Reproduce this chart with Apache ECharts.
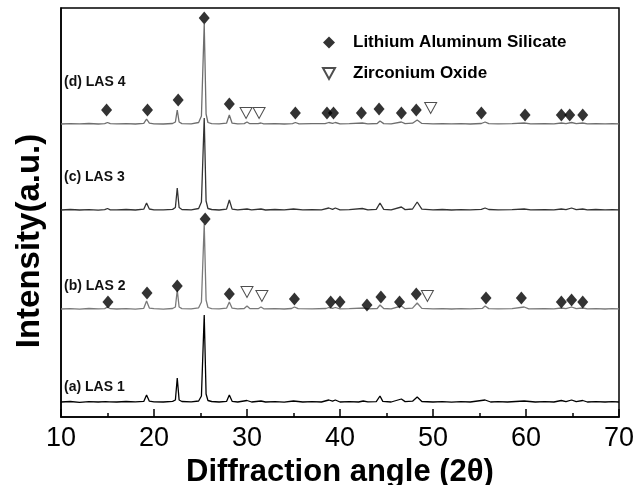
<!DOCTYPE html>
<html>
<head>
<meta charset="utf-8">
<script src="https://cdn.jsdelivr.net/npm/echarts@6/dist/echarts.min.js"></script>
<style>
html,body{margin:0;padding:0;background:#fff;}
#chart{width:643px;height:485px;}
</style>
</head>
<body>
<div id="chart"></div>
<script>
// ---- Data (2θ, intensity above each trace's own baseline, a.u.) ----
var traceNames = ['(a) LAS 1', '(b) LAS 2', '(c) LAS 3', '(d) LAS 4'];
var traceOffsets = [15, 108, 207, 293];

var traceA = [[10,0],[11,0.5],[12,-0.3],[13,0.4],[14,0],[14.8,0.3],[15,2],[15.2,0.2],[16,0],[17,0.5],[18,0.1],[18.9,0.6],[19.2,7],[19.5,0.8],[20,0.2],[21,0],[22,0.6],[22.3,2],[22.5,24],[22.7,2],[23,0.5],[24,0.2],[24.8,1],[25.1,6],[25.4,87],[25.6,8],[25.8,1.5],[26.2,0.5],[27,0],[27.8,0.6],[28.1,7],[28.4,0.7],[29,0],[30,1.5],[30.5,0],[31.5,1],[32,0],[33,0.4],[34,-0.2],[35,1],[36,0],[37,0.4],[38,0],[38.8,2],[39.2,0.8],[39.5,2],[40,0],[41,0.3],[42,0],[42.5,1],[43,0.2],[43.9,0.4],[44.3,6],[44.6,0.6],[45.5,0],[46.6,3],[47,0.4],[47.8,0.8],[48.3,5],[48.8,0.5],[50,0],[51,0.4],[52,-0.2],[53,0.3],[54,0],[55.6,2],[56.2,0],[57,0.3],[58,0],[59.8,1],[61,0],[62,0.3],[63,0],[63.8,1.5],[64.3,0.3],[64.9,2],[65.4,0.3],[66.1,1.5],[66.6,0],[67.5,0.4],[68.5,0],[69.3,0.3],[70,0]];

var traceB = [[10,0],[11,0.4],[12,-0.2],[13,0.5],[14,0.1],[14.7,0.4],[15,2],[15.3,0.3],[16,0],[17,0.4],[18,-0.1],[18.9,0.7],[19.2,8],[19.5,0.9],[20,0.3],[21,-0.1],[22,0.5],[22.3,2],[22.5,19],[22.7,2],[23,0.4],[24,0.2],[24.8,1.2],[25.1,7],[25.4,85],[25.6,9],[25.8,1.5],[26.2,0.4],[27,0.1],[27.8,0.8],[28.1,7],[28.4,0.8],[29,0.2],[29.7,0.5],[30,3],[30.3,0.4],[31.2,0.3],[31.5,2],[31.8,0.2],[33,0.4],[34,0],[34.8,0.5],[35.1,2],[35.5,0.3],[37,0.2],[38.5,0.5],[38.8,1.5],[39.2,0.6],[39.5,1.5],[40,0.1],[41,0.4],[42.6,1],[43,0.2],[44,0.5],[44.3,4],[44.7,0.5],[45.5,0.1],[46.6,3],[47,0.3],[47.8,0.9],[48.3,6],[48.8,0.6],[50,0.2],[51,0.4],[52,0],[53,0.4],[54,0.1],[55.3,0.6],[55.6,3],[56,0.4],[57,0.2],[58.5,0.3],[59.8,2],[60.3,0.2],[62,0.4],[63,0.1],[63.8,1],[64.3,0.3],[64.9,2],[65.4,0.3],[66.1,1],[66.6,0.1],[67.5,0.4],[68.5,0],[69.3,0.3],[70,0.1]];

var traceC = [[10,0],[11,0.5],[12,0],[13,0.4],[14,-0.2],[14.7,0.3],[15,1.5],[15.3,0.2],[16,0.1],[17,0.5],[18,0],[18.9,0.8],[19.2,7],[19.5,1],[20,0.2],[21,0.1],[22,0.6],[22.3,2.5],[22.5,22],[22.7,2.5],[23,0.5],[24,0.2],[24.8,1.5],[25.1,8],[25.4,92],[25.6,9],[25.8,1.5],[26.2,0.5],[27,0],[27.8,0.9],[28.1,10],[28.4,0.9],[29,0.1],[30,1],[30.5,0.2],[31.5,1],[32,0],[33,0.5],[34,0.1],[35,1],[36,0.2],[37,0.4],[38,0.1],[38.8,2],[39.2,0.7],[39.5,2],[40,0.2],[41,0.3],[42.4,1.5],[43,0.2],[43.9,0.6],[44.3,7],[44.7,0.7],[45.5,0.1],[46.6,3],[47,0.4],[47.8,1],[48.3,8],[48.8,0.8],[50,0.2],[51,0.5],[52,0],[53,0.4],[54,0.2],[55.2,0.6],[55.6,2],[56,0.5],[57,0.2],[58.5,0.4],[59.8,1],[60.5,0.1],[62,0.4],[63,0.1],[63.8,1],[64.3,0.4],[64.9,2],[65.4,0.4],[66.1,1],[66.6,0.2],[67.5,0.5],[68.5,0.1],[69.3,0.4],[70,0.2]];

var traceD = [[10,0],[11,0.4],[12,0.1],[13,0.5],[14,0],[14.7,0.4],[15,1.5],[15.3,0.3],[16,0.1],[17,0.4],[18,0],[18.9,0.6],[19.2,5],[19.5,0.8],[20,0.2],[21,0],[22,0.5],[22.3,2],[22.5,14],[22.7,2],[23,0.4],[24,0.2],[24.8,1.5],[25.1,8],[25.4,100],[25.6,10],[25.8,1.5],[26.2,0.4],[27,0.1],[27.8,0.8],[28.1,9],[28.4,0.8],[29,0.2],[29.7,0.4],[30,2],[30.3,0.3],[31.2,0.3],[31.5,1],[31.8,0.2],[33,0.4],[34,0],[34.9,0.4],[35.2,1.5],[35.6,0.2],[37,0.4],[38.4,0.4],[38.8,1.5],[39.2,0.6],[39.5,1.5],[40,0.2],[41,0.4],[42.4,1],[43,0.2],[44,0.5],[44.3,3],[44.7,0.4],[45.5,0.1],[46.6,2],[47,0.3],[47.8,0.8],[48.3,4],[48.8,0.6],[50,0.2],[51,0.4],[52,0.1],[53,0.4],[54,0],[55.2,0.5],[55.6,2],[56,0.4],[57,0.2],[58.5,0.4],[59.8,1],[60.5,0.2],[62,0.4],[63,0.1],[63.8,1],[64.3,0.3],[64.9,1.5],[65.4,0.3],[66.1,1],[66.6,0.2],[67.5,0.4],[68.5,0.1],[69.3,0.3],[70,0.1]];

// phase markers (2θ, height on the common intensity scale)
var lasMarkers = [
  [14.9,307],[19.3,307],[22.6,317],[25.4,399],[28.1,313],[35.2,304],[38.6,304],[39.3,304],[42.3,304],[44.2,308],[46.6,304],[48.2,307],[55.2,304],[59.9,302],[63.8,302],[64.7,302],[66.1,302],
  [15.05,115],[19.25,124],[22.5,131],[25.5,198],[28.1,123],[35.1,118],[39.0,115],[40.0,115],[42.9,112],[44.4,120],[46.4,115],[48.2,123],[55.7,119],[59.5,119],[63.8,115],[64.9,117],[66.1,115]
];
var zrMarkers = [[29.9,304],[31.3,304],[49.75,309],[30.0,125],[31.6,121],[49.4,121]];

var xTicks = [10, 20, 30, 40, 50, 60, 70];

var traceColors = ['#000000', '#7a7a7a', '#333333', '#6e6e6e'];
var traces = [traceA, traceB, traceC, traceD];

var chart = echarts.init(document.getElementById('chart'), null, {renderer: 'canvas'});

var series = traces.map(function (t, i) {
  return {
    name: traceNames[i],
    type: 'line',
    data: t.map(function (p) { return [p[0], p[1] + traceOffsets[i]]; }),
    showSymbol: false,
    symbol: 'none',
    lineStyle: {color: traceColors[i], width: 1.3},
    animation: false,
    z: 2
  };
});
var invTri = 'path://M0,0 L10,0 L5,9 Z';
series.push({
  name: 'Lithium Aluminum Silicate',
  type: 'scatter',
  data: lasMarkers,
  symbol: 'diamond',
  symbolSize: [11, 13],
  itemStyle: {color: '#000'},
  animation: false,
  z: 5
});
series.push({
  name: 'Zirconium Oxide',
  type: 'scatter',
  data: zrMarkers,
  symbol: invTri,
  symbolSize: [12, 11],
  itemStyle: {color: '#fff', borderColor: '#222', borderWidth: 1},
  animation: false,
  z: 5
});

var labelTops = [388, 287, 178, 83];
var graphics = traceNames.map(function (n, i) {
  return {
    type: 'text',
    left: 64,
    top: labelTops[i] - 8,
    style: {text: n, fontFamily: 'Liberation Sans, Arial', fontWeight: 'bold', fontSize: 14, fill: '#111'},
    z: 10
  };
});
graphics.push({
  type: 'text',
  x: 30,
  y: 241,
  rotation: Math.PI / 2,
  style: {text: 'Intensity(a.u.)', fontFamily: 'Liberation Sans, Arial', fontWeight: 'bold', fontSize: 33, fill: '#000', align: 'center', verticalAlign: 'middle'},
  z: 10
});

chart.setOption({
  backgroundColor: '#fff',
  animation: false,
  grid: {left: 61, right: 24, top: 8, bottom: 68, show: true, borderColor: '#000', borderWidth: 1.5, containLabel: false, outerBoundsMode: 'none'},
  legend: {
    orient: 'vertical',
    left: 317,
    top: 29,
    itemGap: 14,
    itemWidth: 12,
    itemHeight: 12,
    data: [
      {name: 'Lithium Aluminum Silicate'},
      {name: 'Zirconium Oxide'}
    ],
    textStyle: {fontFamily: 'Liberation Sans, Arial', fontWeight: 'bold', fontSize: 17, color: '#000', padding: [0, 0, 0, 13]}
  },
  xAxis: {
    type: 'value',
    min: 10,
    max: 70,
    interval: 10,
    name: 'Diffraction angle (2θ)',
    nameLocation: 'middle',
    nameGap: 34,
    nameTextStyle: {fontFamily: 'Liberation Sans, Arial', fontWeight: 'bold', fontSize: 31, color: '#000'},
    axisLine: {show: true, lineStyle: {color: '#000', width: 1.5}},
    axisTick: {show: true, inside: true, length: 8, lineStyle: {color: '#000', width: 1.5}},
    minorTick: {show: true, splitNumber: 2, length: 4, lineStyle: {color: '#000', width: 1.5}},
    axisLabel: {fontFamily: 'Liberation Sans, Arial', fontSize: 27, color: '#000', margin: 8,
      formatter: function (v) { return xTicks.indexOf(v) >= 0 ? String(v) : ''; }},
    splitLine: {show: false}
  },
  yAxis: {
    type: 'value',
    min: 0,
    max: 409,
    axisLine: {show: true, lineStyle: {color: '#000', width: 1.5}},
    axisTick: {show: false},
    axisLabel: {show: false},
    splitLine: {show: false}
  },
  graphic: graphics,
  series: series
});
</script>
</body>
</html>
